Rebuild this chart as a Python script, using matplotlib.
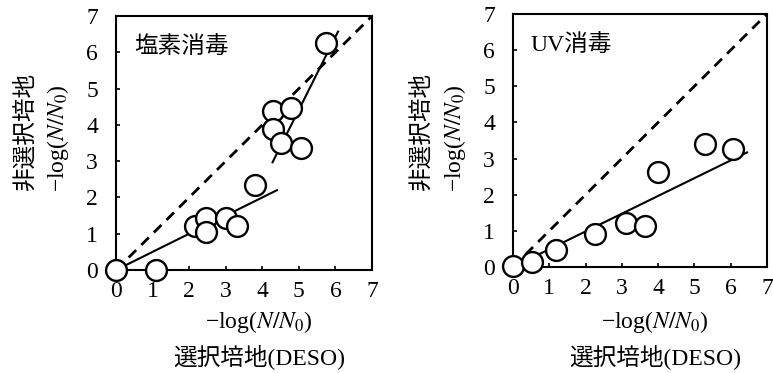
import matplotlib
matplotlib.use('Agg')
import matplotlib.pyplot as plt

plt.rcParams['font.family'] = ['Liberation Serif', 'Noto Sans CJK JP']
plt.rcParams['mathtext.fontset'] = 'stix'

# data
ticks = [0, 1, 2, 3, 4, 5, 6, 7]

chlorine_x = [0, 1.1, 2.15, 2.45, 2.47, 3.0, 3.3, 3.8, 4.3, 4.3, 4.78, 4.5, 5.05, 5.75]
chlorine_y = [0, 0, 1.2, 1.42, 1.04, 1.42, 1.2, 2.35, 4.38, 3.88, 4.46, 3.5, 3.37, 6.26]
chlorine_fit1_x = [0, 4.4]
chlorine_fit1_y = [0, 2.2]
chlorine_fit2_x = [4.28, 6.07]
chlorine_fit2_y = [2.97, 6.57]

uv_x = [0, 0.53, 1.19, 2.25, 3.12, 3.65, 3.99, 5.3, 6.06]
uv_y = [0.02, 0.15, 0.48, 0.9, 1.22, 1.13, 2.63, 3.4, 3.26]
uv_fit_x = [0, 6.45]
uv_fit_y = [0, 3.17]

one_to_one = [0, 7]

ylab1 = '非選択培地'
ylab2 = '\u2212log($N/N_0$)'
xlab1 = '\u2212log($N/N_0$)'
xlab2 = '選択培地(DESO)'

fig = plt.figure(figsize=(7.73, 3.73), dpi=100)
ax1 = fig.add_axes([0.1501, 0.2761, 0.3312, 0.681])
ax2 = fig.add_axes([0.6636, 0.2842, 0.3286, 0.6783])


def panel(ax, px, py, fits, label):
    ax.plot(one_to_one, one_to_one, color='black', lw=2.0, dashes=(3.8, 2.6), zorder=2)
    for fx, fy in fits:
        ax.plot(fx, fy, color='black', lw=1.5, zorder=2)
    ax.plot(px, py, lw=0, marker='o', markersize=15, markerfacecolor='white',
            markeredgecolor='black', markeredgewidth=1.7, clip_on=False, zorder=5)
    ax.set_xlim(0, 7)
    ax.set_ylim(0, 7)
    ax.set_xticks(ticks)
    ax.set_yticks(ticks)
    ax.tick_params(direction='in', length=3, width=1.2, labelsize=17)
    ax.tick_params(axis='x', pad=8)
    ax.tick_params(axis='y', pad=13)
    for s in ax.spines.values():
        s.set_linewidth(1.5)
    ax.text(0.07, 0.875, label, transform=ax.transAxes, fontsize=17,
            ha='left', va='center')


panel(ax1, chlorine_x, chlorine_y,
      [(chlorine_fit1_x, chlorine_fit1_y), (chlorine_fit2_x, chlorine_fit2_y)], '塩素消毒')
panel(ax2, uv_x, uv_y, [(uv_fit_x, uv_fit_y)], 'UV消毒')

H = 373.0
W = 773.0
for x1, x2, xc in [(26, 58, 259), (422, 455, 655)]:
    fig.text(x1 / W, 1 - 132 / H, ylab1, rotation=90, fontsize=17, ha='center', va='center')
    fig.text(x2 / W, 1 - 138 / H, ylab2, rotation=90, fontsize=17, ha='center', va='center')
    fig.text(xc / W, 1 - 322 / H, xlab1, fontsize=17, ha='center', va='center')
    fig.text(xc / W, 1 - 357 / H, xlab2, fontsize=17, ha='center', va='center')

fig.savefig('out.png', dpi=100)
